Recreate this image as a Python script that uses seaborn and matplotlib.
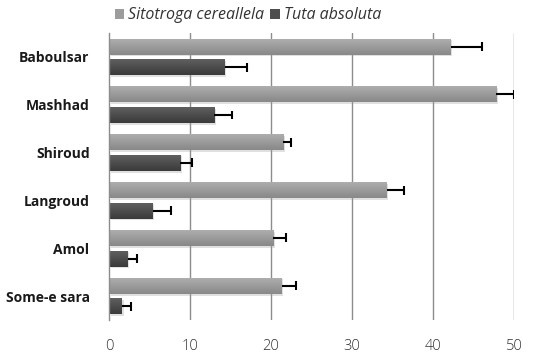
import numpy as np
import pandas as pd
import matplotlib
matplotlib.use("Agg")
import matplotlib.pyplot as plt
import matplotlib.patheffects as pe
from matplotlib.colors import LinearSegmentedColormap
import seaborn as sns

sites = ["Baboulsar", "Mashhad", "Shiroud", "Langroud", "Amol", "Some-e sara"]
species = ["Sitotroga cereallela", "Tuta absoluta"]
sitotroga = [42.2, 47.8, 21.5, 34.3, 20.3, 21.3]
sitotroga_err = [3.8, 2.2, 1.0, 2.1, 1.6, 1.8]
tuta = [14.3, 13.0, 8.8, 5.4, 2.3, 1.6]
tuta_err = [2.7, 2.2, 1.5, 2.2, 1.2, 1.1]
x_ticks = [0, 10, 20, 30, 40, 50]

df = pd.DataFrame({
    "site": sites * 2,
    "value": sitotroga + tuta,
    "species": [species[0]] * len(sites) + [species[1]] * len(sites),
})
errors = {species[0]: sitotroga_err, species[1]: tuta_err}

sns.set_theme(style="white")
plt.rcParams["font.family"] = ["Open Sans", "DejaVu Sans"]

fig = plt.figure(figsize=(5.41, 3.58), dpi=100)
ax = fig.add_axes([0.2015, 0.106, 0.7485, 0.802])

colors = ["#9c9c9c", "#4e4e4e"]
grad_colors = [("#b0b0b0", "#888888"), ("#626262", "#3a3a3a")]

sns.barplot(data=df, y="site", x="value", hue="species", orient="h",
            palette=colors, width=0.86, gap=0.22, errorbar=None,
            order=sites, hue_order=species, ax=ax, zorder=3,
            edgecolor="none", linewidth=0)

shadow = [pe.SimplePatchShadow(offset=(1.2, -1.2), shadow_rgbFace="#999999", alpha=0.3),
          pe.Normal()]

for cont, sp, (c_top, c_bot) in zip(ax.containers, species, grad_colors):
    cmap = LinearSegmentedColormap.from_list(sp, [c_top, c_bot])
    for patch, err in zip(cont.patches, errors[sp]):
        patch.set_path_effects(shadow)
        x0, y0 = patch.get_x(), patch.get_y()
        w, h = patch.get_width(), patch.get_height()
        grad = np.linspace(0, 1, 64).reshape(-1, 1)
        im = ax.imshow(grad, cmap=cmap, aspect="auto",
                       extent=(x0, x0 + w, y0 + h, y0), zorder=3.5,
                       interpolation="bicubic")
        im.set_clip_path(patch)
        # one-sided (positive) error bar with a cap at its outer end
        yc = y0 + h / 2
        ax.plot([x0 + w, x0 + w + err], [yc, yc], color="black",
                linewidth=1.5, zorder=5, solid_capstyle="butt")
        ax.plot([x0 + w + err, x0 + w + err], [yc - h * 0.28, yc + h * 0.28],
                color="black", linewidth=1.5, zorder=5, solid_capstyle="butt")

ax.set_xlim(0, 50)
ax.set_ylim(len(sites) - 0.5, -0.5)
ax.set_xticks(x_ticks)
ax.set_xticklabels([str(t) for t in x_ticks])
ax.set_xlabel("")
ax.set_ylabel("")
ax.grid(False)
for t in x_ticks[1:]:
    ax.axvline(t, color="#8c8c8c", linewidth=1.0, zorder=1)

for s in ["top", "right", "bottom"]:
    ax.spines[s].set_visible(False)
ax.spines["left"].set_color("#8c8c8c")
ax.spines["left"].set_linewidth(1.0)
ax.spines["left"].set_zorder(6)

ax.tick_params(axis="x", length=0, pad=14, labelsize=10.5, labelcolor="#333333")
ax.tick_params(axis="y", length=0, pad=14, labelsize=10, labelcolor="#1a1a1a")
for lbl in ax.get_yticklabels():
    lbl.set_fontweight("bold")
for lbl in ax.get_xticklabels():
    lbl.set_fontweight("light")

leg = ax.legend(loc="lower center", bbox_to_anchor=(0.343, 1.0), ncol=2,
                frameon=False, handlelength=0.6, handleheight=0.6,
                handletextpad=0.25, columnspacing=0.4, borderaxespad=0.2,
                prop={"style": "italic", "size": 11.5})
for txt in leg.get_texts():
    txt.set_color("#333333")

fig.savefig("out.png", dpi=100)
